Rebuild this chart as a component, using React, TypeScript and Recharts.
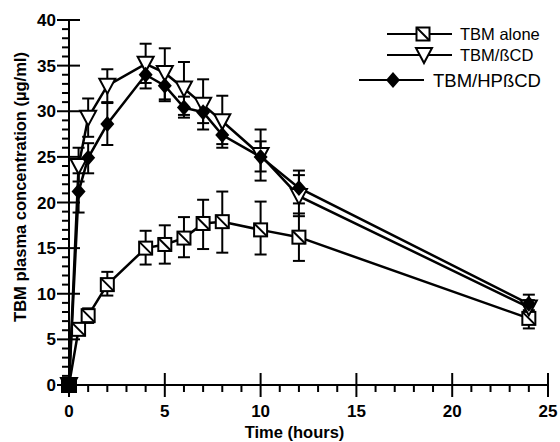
import { LineChart, Line, XAxis, YAxis, ErrorBar, Legend } from 'recharts';

const times = [0, 0.5, 1, 2, 4, 5, 6, 7, 8, 10, 12, 24];

const alone = [0, 6.1, 7.6, 11.0, 15.0, 15.4, 16.1, 17.7, 17.9, 17.0, 16.2, 7.3];
const aloneLo = [0, 5.5, 6.8, 9.8, 13.2, 13.3, 14.0, 14.9, 14.5, 14.3, 13.6, 6.2];
const aloneHi = [0, 6.7, 8.4, 12.4, 16.9, 17.5, 18.4, 20.3, 21.2, 20.1, 18.8, 8.2];

const bcd = [0, 24.0, 29.3, 32.8, 35.2, 34.2, 32.5, 30.7, 28.9, 25.2, 20.7, 8.5];
const bcdLo = [0, 22.3, 27.2, 31.0, 33.1, 31.3, 29.6, 28.0, 26.4, 22.4, 18.5, 7.8];
const bcdHi = [0, 26.0, 31.4, 34.6, 37.4, 36.9, 35.4, 33.5, 31.7, 28.0, 23.0, 9.3];

const hp = [0, 21.2, 24.9, 28.6, 34.0, 32.8, 30.4, 29.9, 27.4, 25.0, 21.6, 8.9];
const hpLo = [0, 18.9, 23.2, 26.3, 32.5, 31.1, 29.3, 28.7, 26.0, 23.4, 19.9, 7.9];
const hpHi = [0, 23.2, 26.5, 30.9, 35.6, 34.6, 31.6, 31.1, 29.2, 26.7, 23.5, 9.9];

const xTicks = Array.from({ length: 26 }, (_, i) => i);
const yTicks = Array.from({ length: 41 }, (_, i) => i);

const data = times.map((t, i) => ({
  t,
  alone: alone[i],
  aloneErr: [alone[i] - aloneLo[i], aloneHi[i] - alone[i]],
  bcd: bcd[i],
  bcdErr: [bcd[i] - bcdLo[i], bcdHi[i] - bcd[i]],
  hp: hp[i],
  hpErr: [hp[i] - hpLo[i], hpHi[i] - hp[i]],
}));

const FONT = '"Liberation Sans", Arial, sans-serif';

const XTick = (props: any) => {
  const { x, y, payload } = props;
  const v = payload.value;
  if (v % 5 === 0) {
    return (
      <g>
        <line x1={x} x2={x} y1={y - 12} y2={y + 12} stroke="#000" strokeWidth={2} />
        <text x={x} y={y + 32} textAnchor="middle" fontFamily={FONT} fontWeight="bold" fontSize={17} fill="#000">
          {v}
        </text>
      </g>
    );
  }
  return <line x1={x} x2={x} y1={y} y2={y + 7} stroke="#000" strokeWidth={2} />;
};

const YTick = (props: any) => {
  const { x, y, payload } = props;
  const v = payload.value;
  if (v % 5 === 0) {
    return (
      <g>
        <line x1={x - 12} x2={x + 11} y1={y} y2={y} stroke="#000" strokeWidth={2} />
        <text x={x - 13} y={y + 6} textAnchor="end" fontFamily={FONT} fontWeight="bold" fontSize={17} fill="#000">
          {v}
        </text>
      </g>
    );
  }
  return <line x1={x - 7} x2={x} y1={y} y2={y} stroke="#000" strokeWidth={2} />;
};

const Square = ({ cx, cy, s = 6.5 }: any) => (
  <g>
    <rect x={cx - s} y={cy - s} width={s * 2} height={s * 2} fill="#fff" stroke="#000" strokeWidth={2} />
    <line x1={cx - s} y1={cy - s} x2={cx + s} y2={cy + s} stroke="#000" strokeWidth={2} />
  </g>
);

const Triangle = ({ cx, cy }: any) => (
  <polygon
    points={`${cx - 8},${cy - 7} ${cx + 8},${cy - 7} ${cx},${cy + 8}`}
    fill="#fff"
    stroke="#000"
    strokeWidth={2}
  />
);

const Diamond = ({ cx, cy }: any) => (
  <polygon points={`${cx},${cy - 8} ${cx + 7},${cy} ${cx},${cy + 8} ${cx - 7},${cy}`} fill="#000" />
);

const dotOf = (Shape: any) => (p: any) => <Shape key={p.key ?? `${p.cx}-${p.cy}`} cx={p.cx} cy={p.cy} />;

// the three samples at t=0 sit on top of each other; the print shows a filled block there
const originDot = (p: any) =>
  p.payload && p.payload.t === 0 ? (
    <rect key={p.key ?? 'o'} x={p.cx - 8} y={p.cy - 8} width={16} height={16} fill="#000" />
  ) : (
    <Diamond key={p.key ?? `${p.cx}-${p.cy}`} cx={p.cx} cy={p.cy} />
  );

const LegendBox = () => (
  <svg width={200} height={75} style={{ display: 'block' }}>
    <line x1={37} x2={102} y1={14} y2={14} stroke="#000" strokeWidth={2} />
    <Square cx={73} cy={14} />
    <text x={110} y={20} fontFamily={FONT} fontSize={16.5} fill="#000">TBM alone</text>
    <line x1={37} x2={102} y1={35} y2={35} stroke="#000" strokeWidth={2} />
    <Triangle cx={74} cy={35} />
    <text x={110} y={41} fontFamily={FONT} fontSize={16.5} fill="#000">TBM/ßCD</text>
    <line x1={9} x2={74} y1={60} y2={60} stroke="#000" strokeWidth={2} />
    <Diamond cx={43} cy={60} />
    <text x={83} y={67} fontFamily={FONT} fontSize={18.5} fill="#000">TBM/HPßCD</text>
  </svg>
);

const YLabel = () => (
  <text
    x={0}
    y={0}
    transform="translate(26,187) rotate(-90)"
    textAnchor="middle"
    fontFamily={FONT}
    fontWeight="bold"
    fontSize={16.5}
    fill="#000"
  >
    TBM plasma concentration (µg/ml)
  </text>
);

export default function App() {
  return (
    <div style={{ position: 'absolute', left: 0, top: 0, background: '#fff' }}>
      <LineChart width={560} height={442} data={data} margin={{ top: 20, right: 12, bottom: 0, left: 9 }}>
        <XAxis
          dataKey="t"
          type="number"
          domain={[0, 25]}
          ticks={xTicks}
          interval={0}
          tick={<XTick />}
          tickLine={false}
          tickSize={0}
          tickMargin={0}
          height={57}
          axisLine={{ stroke: '#000', strokeWidth: 2 }}
          label={{
            value: 'Time (hours)',
            position: 'insideBottom',
            offset: 4,
            dx: -14,
            fontFamily: FONT,
            fontWeight: 'bold',
            fontSize: 16.5,
            fill: '#000',
          }}
        />
        <XAxis
          xAxisId="top"
          orientation="top"
          dataKey="t"
          type="number"
          domain={[0, 25]}
          tick={false}
          tickLine={false}
          height={0}
          axisLine={{ stroke: '#000', strokeWidth: 2 }}
        />
        <YAxis
          type="number"
          domain={[0, 40]}
          ticks={yTicks}
          interval={0}
          tick={<YTick />}
          tickLine={false}
          tickSize={0}
          tickMargin={0}
          width={60}
          axisLine={{ stroke: '#000', strokeWidth: 2 }}
          label={{ content: <YLabel /> }}
        />
        <YAxis
          yAxisId="right"
          orientation="right"
          type="number"
          domain={[0, 40]}
          tick={false}
          tickLine={false}
          width={0}
          axisLine={{ stroke: '#000', strokeWidth: 2 }}
        />
        <Legend
          verticalAlign="middle"
          align="center"
          content={<LegendBox />}
          wrapperStyle={{ position: 'absolute', top: 20, left: 350, width: 200, height: 75 }}
        />
        <Line
          dataKey="alone"
          stroke="#000"
          strokeWidth={2.5}
          dot={dotOf(Square)}
          activeDot={false}
          isAnimationActive={false}
        >
          <ErrorBar dataKey="aloneErr" direction="y" width={6} stroke="#000" strokeWidth={2} />
        </Line>
        <Line
          dataKey="bcd"
          stroke="#000"
          strokeWidth={2.5}
          dot={dotOf(Triangle)}
          activeDot={false}
          isAnimationActive={false}
        >
          <ErrorBar dataKey="bcdErr" direction="y" width={6} stroke="#000" strokeWidth={2} />
        </Line>
        <Line
          dataKey="hp"
          stroke="#000"
          strokeWidth={2.5}
          dot={originDot}
          activeDot={false}
          isAnimationActive={false}
        >
          <ErrorBar dataKey="hpErr" direction="y" width={6} stroke="#000" strokeWidth={2} />
        </Line>
      </LineChart>
    </div>
  );
}
